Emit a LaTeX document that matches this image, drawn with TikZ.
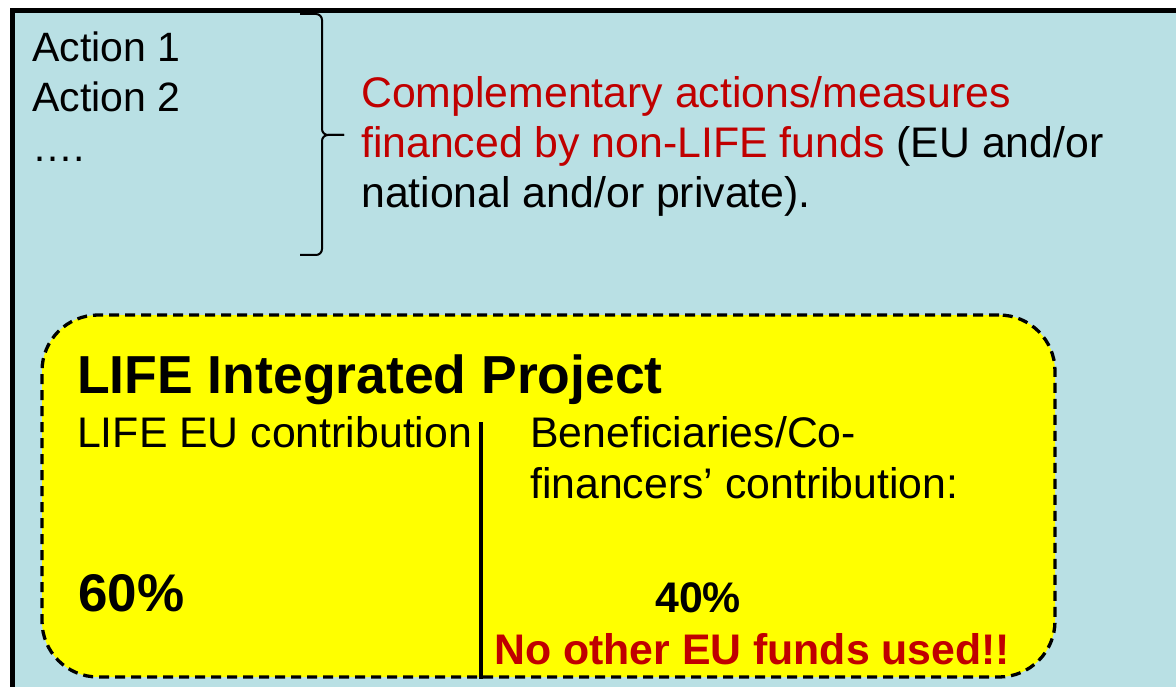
\documentclass[tikz,border=0pt]{standalone}
\usepackage{fontspec}
\setmainfont{Liberation Sans}
\definecolor{panelblue}{HTML}{B9E0E4}
\definecolor{lifeyellow}{HTML}{FFFF00}
\definecolor{fundred}{HTML}{C00000}
\tikzset{
  body/.style={anchor=base west, inner sep=0pt, font=\fontsize{42.8}{50}\selectfont},
  listitem/.style={anchor=base west, inner sep=0pt, font=\fontsize{41}{50}\selectfont},
  boldbody/.style={anchor=base west, inner sep=0pt, font=\fontsize{42.8}{50}\selectfont\bfseries},
  bigbold/.style={anchor=base west, inner sep=0pt, font=\fontsize{53.5}{60}\selectfont\bfseries},
  projectbox/.style={draw=black, fill=lifeyellow, line width=3.3pt, dash pattern=on 10pt off 6pt,
    rounded corners=56pt, inner sep=0pt, minimum width=1013pt, minimum height=362pt},
  divider/.style={draw=black, line width=3.3pt},
  bracepath/.style={draw=black, line width=2pt, rounded corners=6pt},
}
\begin{document}
\begin{tikzpicture}[x=1pt,y=-1pt]
\useasboundingbox (0,0) rectangle (1176,687);
\clip (0,0) rectangle (1176,687);
\fill[white] (0,0) rectangle (1176,687);
% outer panel, running off the right and bottom edges
\draw[line width=4.5pt, fill=panelblue] (12.5,10.5) rectangle (1220,730);

% list of complementary actions
\node[listitem] (act1) at (32,62) {Action 1};
\node[listitem] (act2) at (32,112) {Action 2};
\node[listitem] (actdots) at (32,162) {….};

% right brace grouping the actions
\coordinate (brtop) at (300,14);
\coordinate (brtip) at (344,135);
\coordinate (brbot) at (300,255);
\path[bracepath] (brtop) -- (322,14) -- (322,135) -- (brtip);
\path[bracepath] (brtip) -- (322,135) -- (322,255) -- (brbot);

% explanation of the complementary funding
\node[body, text=fundred] (comp1) at (361,108) {Complementary actions/measures};
\node[body] (comp2) at (361,158) {\textcolor{fundred}{financed by non-LIFE funds} (EU and/or};
\node[body] (comp3) at (361,208) {national and/or private).};

% the integrated project box
\node[projectbox] (lifebox) at (548.5,496) {};
\coordinate (divtop) at (481,422);
\draw[divider] (divtop) -- (divtop |- lifebox.south);

\node[bigbold] (title) at (77,393) {LIFE Integrated Project};
\node[body] (eulabel) at (77,447) {LIFE EU contribution};
\node[body] (benef1) at (530,447) {Beneficiaries/Co-};
\node[body] (benef2) at (530,498) {financers’ contribution:};
\node[font=\fontsize{53}{60}\selectfont\bfseries, anchor=base west, inner sep=0pt] (eushare) at (78,611) {60\%};
\node[boldbody] (benshare) at (655,612) {40\%};
\node[boldbody, text=fundred] (nofunds) at (494,664) {No other EU funds used!!};
\end{tikzpicture}
\end{document}
